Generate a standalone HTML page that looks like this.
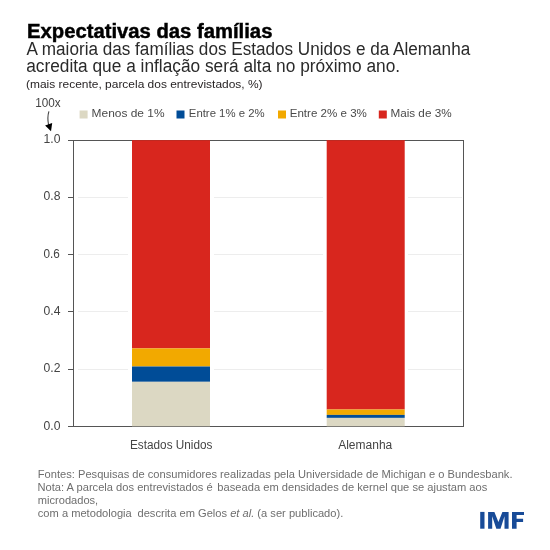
<!DOCTYPE html>
<html><head><meta charset="utf-8">
<style>
html,body{margin:0;padding:0;background:#fff;}
body{width:550px;height:550px;overflow:hidden;}
svg{display:block;will-change:transform;}
text{font-family:"Liberation Sans",sans-serif;white-space:pre;}
</style></head>
<body>
<svg id="s" width="550" height="550" viewBox="0 0 550 550">
<rect width="550" height="550" fill="#fff"/>
<!-- title -->
<text id="t1" x="27.0" textLength="245.4" lengthAdjust="spacingAndGlyphs" y="38.2" font-size="19.6" font-weight="bold" fill="#000" stroke="#000" stroke-width="0.45">Expectativas das famílias</text>
<text id="t2" x="26.6" textLength="443.6" lengthAdjust="spacingAndGlyphs" y="54.5" font-size="17.6" fill="#2a2a2a">A maioria das famílias dos Estados Unidos e da Alemanha</text>
<text id="t3" x="26.2" textLength="373.9" lengthAdjust="spacingAndGlyphs" y="71.5" font-size="17.6" fill="#2a2a2a">acredita que a inflação será alta no próximo ano.</text>
<text id="t4" x="26.0" textLength="236.6" lengthAdjust="spacingAndGlyphs" y="88" font-size="11" fill="#231f20">(mais recente, parcela dos entrevistados, %)</text>
<text id="t5" x="35.3" textLength="25.4" lengthAdjust="spacingAndGlyphs" y="106.9" font-size="12.6" fill="#444">100x</text>
<!-- arrow -->
<path d="M48.9 111.3 C47.6 115.5 47.6 120 48.6 125" stroke="#444" stroke-width="1.1" fill="none"/>
<path d="M45.1 125.5 L52.2 123.1 L51 131.2 Z" fill="#000"/>
<!-- legend -->
<rect x="79.6" y="110.5" width="8" height="8" fill="#dcd8c3"/>
<text id="l1" x="91.6" textLength="73.0" lengthAdjust="spacingAndGlyphs" y="117.2" font-size="11.6" fill="#4a4a4a">Menos de 1%</text>
<rect x="176.5" y="110.5" width="8" height="8" fill="#004c97"/>
<text id="l2" x="188.8" textLength="75.8" lengthAdjust="spacingAndGlyphs" y="117.2" font-size="11.6" fill="#4a4a4a">Entre 1% e 2%</text>
<rect x="278" y="110.5" width="8" height="8" fill="#f2a900"/>
<text id="l3" x="289.7" textLength="77.2" lengthAdjust="spacingAndGlyphs" y="117.2" font-size="11.6" fill="#4a4a4a">Entre 2% e 3%</text>
<rect x="378.8" y="110.5" width="8" height="8" fill="#d8261e"/>
<text id="l4" x="390.4" textLength="61.2" lengthAdjust="spacingAndGlyphs" y="117.2" font-size="11.6" fill="#4a4a4a">Mais de 3%</text>
<!-- gridlines -->
<g stroke="#ededed" stroke-width="1">
<line x1="78" y1="197.5" x2="128" y2="197.5"/>
<line x1="214" y1="197.5" x2="323" y2="197.5"/>
<line x1="408" y1="197.5" x2="462" y2="197.5"/>
<line x1="78" y1="254.5" x2="128" y2="254.5"/>
<line x1="214" y1="254.5" x2="323" y2="254.5"/>
<line x1="408" y1="254.5" x2="462" y2="254.5"/>
<line x1="78" y1="311.5" x2="128" y2="311.5"/>
<line x1="214" y1="311.5" x2="323" y2="311.5"/>
<line x1="408" y1="311.5" x2="462" y2="311.5"/>
<line x1="78" y1="369.5" x2="128" y2="369.5"/>
<line x1="214" y1="369.5" x2="323" y2="369.5"/>
<line x1="408" y1="369.5" x2="462" y2="369.5"/>
</g>
<!-- frame -->
<rect x="73.5" y="140.5" width="390" height="286" fill="none" stroke="#555" stroke-width="1"/>
<g stroke="#555" stroke-width="1">
<line x1="68" y1="140.5" x2="73.5" y2="140.5"/>
<line x1="68" y1="197.5" x2="73.5" y2="197.5"/>
<line x1="68" y1="254.5" x2="73.5" y2="254.5"/>
<line x1="68" y1="311.5" x2="73.5" y2="311.5"/>
<line x1="68" y1="369.5" x2="73.5" y2="369.5"/>
<line x1="68" y1="426.5" x2="73.5" y2="426.5"/>
</g>
<!-- bars US -->
<rect x="132" y="140" width="78" height="208.4" fill="#d8261e"/>
<rect x="132" y="348.4" width="78" height="18.1" fill="#f2a900"/>
<rect x="132" y="366.5" width="78" height="15.3" fill="#004c97"/>
<rect x="132" y="381.8" width="78" height="44.5" fill="#dcd8c3"/>
<!-- bars DE -->
<rect x="326.7" y="140" width="78" height="269.5" fill="#d8261e"/>
<rect x="326.7" y="409.5" width="78" height="5.4" fill="#f2a900"/>
<rect x="326.7" y="414.9" width="78" height="3" fill="#004c97"/>
<rect x="326.7" y="417.9" width="78" height="8.4" fill="#dcd8c3"/>
<rect x="132" y="140" width="78" height="1" fill="#bd2a22"/>
<rect x="326.7" y="140" width="78" height="1" fill="#bd2a22"/>
<!-- y labels -->
<g font-size="12.9" fill="#444">
<text id="y10" x="43.5" textLength="16.9" lengthAdjust="spacingAndGlyphs" y="143.2">1.0</text>
<text id="y08" x="43.5" textLength="16.9" lengthAdjust="spacingAndGlyphs" y="200.4">0.8</text>
<text id="y06" x="43.5" textLength="16.3" lengthAdjust="spacingAndGlyphs" y="258">0.6</text>
<text id="y04" x="43.5" textLength="16.9" lengthAdjust="spacingAndGlyphs" y="315">0.4</text>
<text id="y02" x="43.5" textLength="16.9" lengthAdjust="spacingAndGlyphs" y="372.2">0.2</text>
<text id="y00" x="43.5" textLength="16.9" lengthAdjust="spacingAndGlyphs" y="429.5">0.0</text>
</g>
<!-- x labels -->
<text id="x1" x="130.0" textLength="82.4" lengthAdjust="spacingAndGlyphs" y="448.7" font-size="12" fill="#444">Estados Unidos</text>
<text id="x2" x="338.2" y="448.7" font-size="12" fill="#444">Alemanha</text>
<!-- footer -->
<g font-size="10.6" fill="#6e6e6e">
<text id="f1" x="37.8" textLength="474.7" lengthAdjust="spacingAndGlyphs" y="478">Fontes: Pesquisas de consumidores realizadas pela Universidade de Michigan e o Bundesbank.</text>
<text id="f2" x="37.5" textLength="449.8" lengthAdjust="spacingAndGlyphs" y="490.5">Nota: A parcela dos entrevistados é <tspan dx="1.5">baseada</tspan> em densidades de kernel que se ajustam aos</text>
<text id="f3" x="37.8" textLength="60.4" lengthAdjust="spacingAndGlyphs" y="503.6">microdados,</text>
<text id="f4" x="37.8" textLength="305.5" lengthAdjust="spacingAndGlyphs" y="516.7">com a metodologia <tspan dx="2.5">descrita</tspan> em Gelos <tspan font-style="italic">et al.</tspan> (a ser publicado).</text>
</g>
<!-- IMF -->
<g fill="#184b98">
<path d="M480.2 511.9H484.5V528.7H480.2Z"/>
<path d="M488.1 528.7V511.9H494.4L498.4 521.9L502.4 511.9H508.6V528.7H504.5V516.3L500.5 528.7H496.3L492.2 516.3V528.7Z"/>
<path d="M512 528.7V511.9H524V515.1H516.6V518.8H523.1V522.1H516.6V528.7Z"/>
</g>
</svg>
</body></html>
